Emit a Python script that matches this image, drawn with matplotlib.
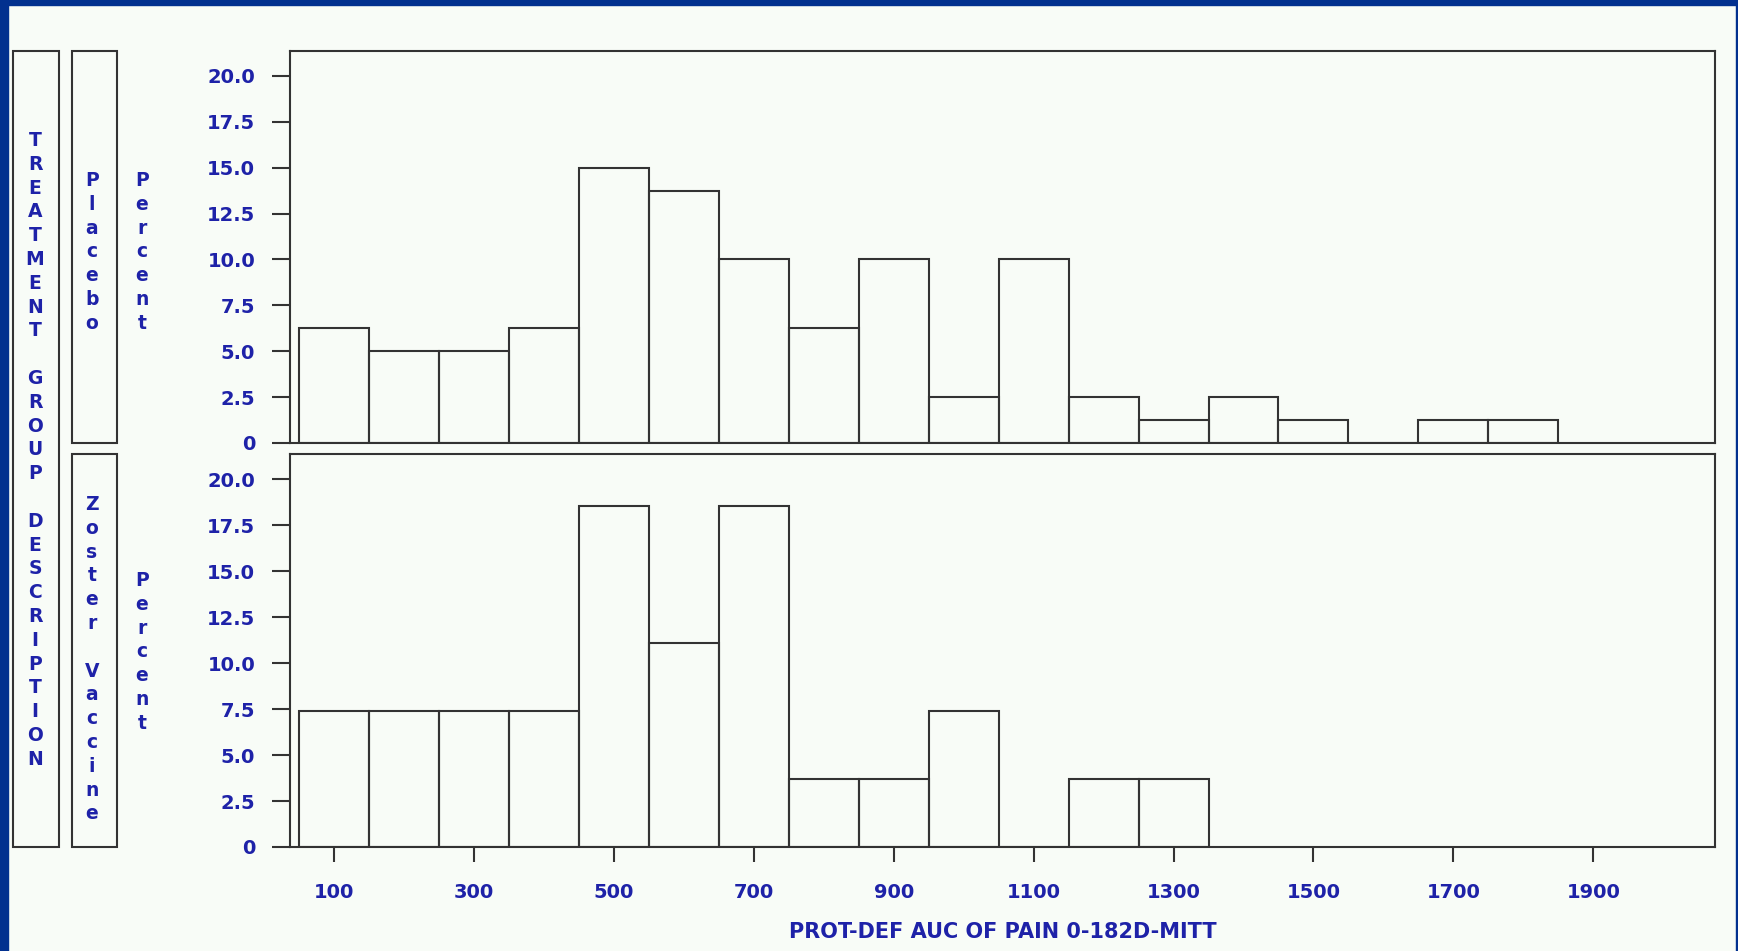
import matplotlib
matplotlib.use("Agg")
import matplotlib.pyplot as plt
from matplotlib.patches import Rectangle

# --- data (percent of subjects per 100-unit bin) ---
bin_mid_placebo = [100, 200, 300, 400, 500, 600, 700, 800, 900, 1000,
                   1100, 1200, 1300, 1400, 1500, 1600, 1700, 1800]
pct_placebo = [6.25, 5.0, 5.0, 6.25, 15.0, 13.75, 10.0, 6.25, 10.0, 2.5,
               10.0, 2.5, 1.25, 2.5, 1.25, 0.0, 1.25, 1.25]

bin_mid_zoster = [100, 200, 300, 400, 500, 600, 700, 800, 900, 1000,
                  1100, 1200, 1300]
pct_zoster = [7.41, 7.41, 7.41, 7.41, 18.52, 11.11, 18.52, 3.70, 3.70, 7.41,
              0.0, 3.70, 3.70]

x_ticks = [100, 300, 500, 700, 900, 1100, 1300, 1500, 1700, 1900]
y_ticks = [0, 2.5, 5.0, 7.5, 10.0, 12.5, 15.0, 17.5, 20.0]
y_ticklabels = ["0", "2.5", "5.0", "7.5", "10.0", "12.5", "15.0", "17.5", "20.0"]

group_title = "TREATMENT GROUP DESCRIPTION"
groups = ["Placebo", "Zoster Vaccine"]
y_title = "Percent"
x_title = "PROT-DEF AUC OF PAIN 0-182D-MITT"

BG = "#f8fcf7"
BORDER = "#02318f"
TXT = "#1e22a8"
LINE = "#333333"
FONT = "DejaVu Sans"

W, H = 1738, 951
fig = plt.figure(figsize=(W / 100, H / 100), dpi=100, facecolor=BG)


def fx(px):
    return px / W


def fy(py):
    return 1 - py / H


# blue frame around the picture (left, top, right)
for x0, y0, w, h in [(0, 0, 8, H), (0, 0, W, 5), (W - 2, 0, 2, H)]:
    fig.patches.append(Rectangle((fx(x0), fy(y0 + h)), w / W, h / H,
                                 transform=fig.transFigure, color=BORDER, zorder=10))


def stacked(text, x_px, y_top_px):
    # one letter per line, top to bottom
    fig.text(fx(x_px), fy(y_top_px), "\n".join(text),
             ha="center", va="top", ma="center", family=FONT, weight="bold",
             fontsize=13.5, color=TXT, linespacing=1.32)


def box(x0, y0, x1, y1):
    fig.patches.append(Rectangle((fx(x0), fy(y1)), (x1 - x0) / W, (y1 - y0) / H,
                                 transform=fig.transFigure, fill=False,
                                 edgecolor=LINE, linewidth=1.5))


panels = [(51, 443, bin_mid_placebo, pct_placebo),
          (454, 847, bin_mid_zoster, pct_zoster)]

for i, (top, bot, mids, vals) in enumerate(panels):
    ax = fig.add_axes([fx(290), fy(bot), fx(1715) - fx(290), (bot - top) / H])
    ax.set_facecolor(BG)
    ax.bar(mids, vals, width=100, fill=False, edgecolor=LINE, linewidth=1.5)
    ax.set_xlim(37, 2074)
    ax.set_ylim(0, 21.36)
    ax.set_yticks(y_ticks)
    ax.set_yticklabels(y_ticklabels)
    ax.tick_params(axis="y", direction="out", length=13, width=1.5, color=LINE,
                   pad=12, labelsize=14, labelcolor=TXT)
    if i == 1:
        ax.set_xticks(x_ticks)
        ax.tick_params(axis="x", direction="out", length=11, width=1.5, color=LINE,
                       pad=15, labelsize=14, labelcolor=TXT)
        ax.set_xlabel(x_title, family=FONT, weight="bold", fontsize=15,
                      color=TXT, labelpad=14)
    else:
        ax.set_xticks([])
    for lab in ax.get_xticklabels() + ax.get_yticklabels():
        lab.set_family(FONT)
        lab.set_weight("bold")
    for sp in ax.spines.values():
        sp.set_color(LINE)
        sp.set_linewidth(1.5)

    # group box and label
    box(72, top, 117, bot)
    stacked(groups[i], 92, top + 120 if i == 0 else top + 41)
    stacked(y_title, 142, 171 if i == 0 else 571)

box(13, 51, 59, 847)
stacked(group_title, 35, 131)

fig.savefig("out.png", dpi=100, facecolor=BG)
